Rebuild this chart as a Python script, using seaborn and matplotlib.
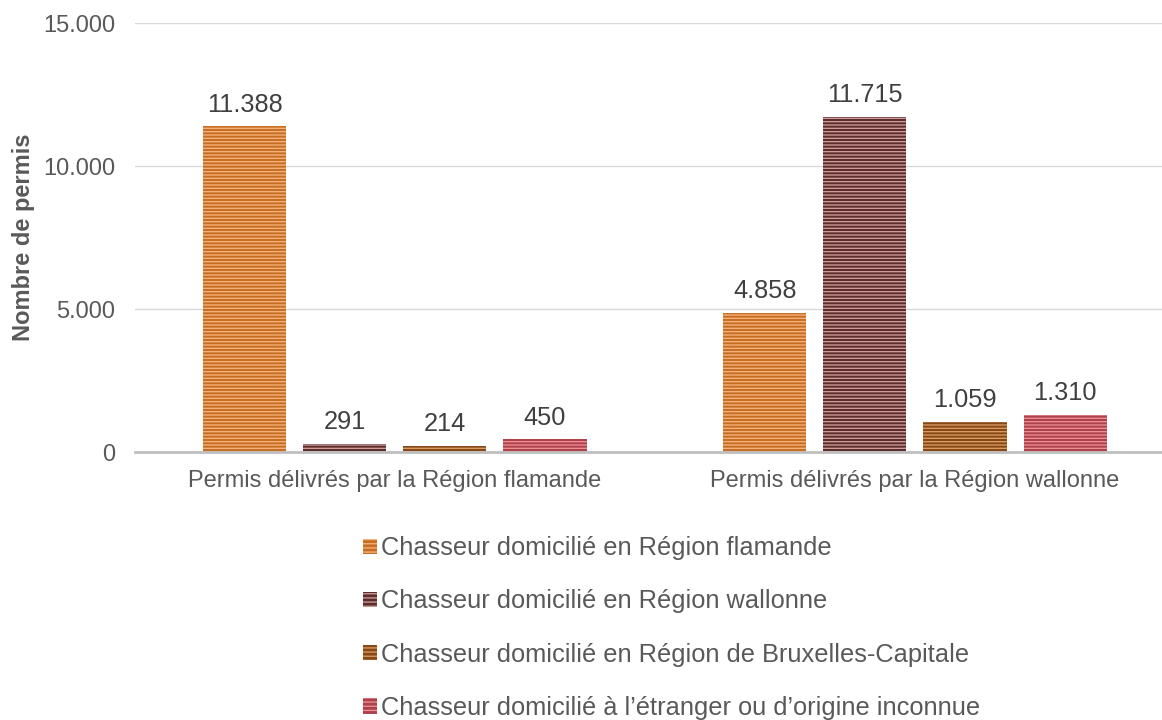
import pandas as pd
import matplotlib
matplotlib.use("Agg")
import matplotlib.pyplot as plt
import seaborn as sns

# data
regions = ["Permis délivrés par la Région flamande",
           "Permis délivrés par la Région wallonne"]
origins = ["Chasseur domicilié en Région flamande",
           "Chasseur domicilié en Région wallonne",
           "Chasseur domicilié en Région de Bruxelles-Capitale",
           "Chasseur domicilié à l\u2019étranger ou d\u2019origine inconnue"]
flamande = [11388, 291, 214, 450]
wallonne = [4858, 11715, 1059, 1310]

base_colors = ["#E26B0A", "#632523", "#984807", "#C0303A"]
stripe_colors = ["#F7B27A", "#CF9C9A", "#DC9A60", "#EC8F96"]

df = pd.DataFrame({
    "region": [regions[0]] * 4 + [regions[1]] * 4,
    "origin": origins * 2,
    "permis": flamande + wallonne,
})

sns.set_style("white")
plt.rcParams["font.family"] = ["Liberation Sans", "DejaVu Sans"]
plt.rcParams["hatch.linewidth"] = 0.95
grey = "#595959"
fs = 17
fs_big = 18.3

fig = plt.figure(figsize=(11.62, 7.2), dpi=100)
ax = fig.add_axes([0.116, 0.372, 0.884, 0.596])

sns.barplot(data=df, x="region", y="permis", hue="origin", hue_order=origins,
            palette=base_colors, width=0.77, gap=0.17, ax=ax, legend=True)

# stripes on every bar + value labels
for cont, sc in zip(ax.containers, stripe_colors):
    for p in cont:
        p.set_hatch("-----")
        p.set_edgecolor(sc)
        p.set_linewidth(0)
    ax.bar_label(cont, labels=[f"{v:,.0f}".replace(",", ".") for v in cont.datavalues],
                 padding=7, fontsize=fs_big, color="#404040")

handles, labels = ax.get_legend_handles_labels()
ax.get_legend().remove()
for h, sc in zip(handles, stripe_colors):
    h.set_hatch("----")
    h.set_edgecolor(sc)
    h.set_linewidth(0)

fig.legend(handles, labels, loc="upper left", bbox_to_anchor=(0.3124, 0.2553),
           frameon=False, fontsize=fs_big, labelcolor=grey,
           handlelength=0.55, handleheight=0.55, handletextpad=0.15,
           labelspacing=1.15, borderaxespad=0, borderpad=0)

ax.set_ylim(0, 15000)
ax.set_xlim(-0.5, 1.475)
ax.set_yticks([0, 5000, 10000, 15000])
ax.set_yticklabels(["0", "5.000", "10.000", "15.000"])
ax.yaxis.grid(True, color="#D9D9D9", linewidth=1)
ax.set_axisbelow(True)
for s in ["top", "right", "left"]:
    ax.spines[s].set_visible(False)
ax.spines["bottom"].set_color("#BFBFBF")
ax.spines["bottom"].set_linewidth(2)
ax.tick_params(axis="both", length=0, labelsize=fs, colors=grey)
ax.tick_params(axis="x", pad=13)
ax.tick_params(axis="y", pad=14)
ax.set_xlabel("")
ax.set_ylabel("Nombre de permis", fontsize=fs, fontweight="bold", color=grey, labelpad=6)

fig.savefig("out.png", dpi=100)
